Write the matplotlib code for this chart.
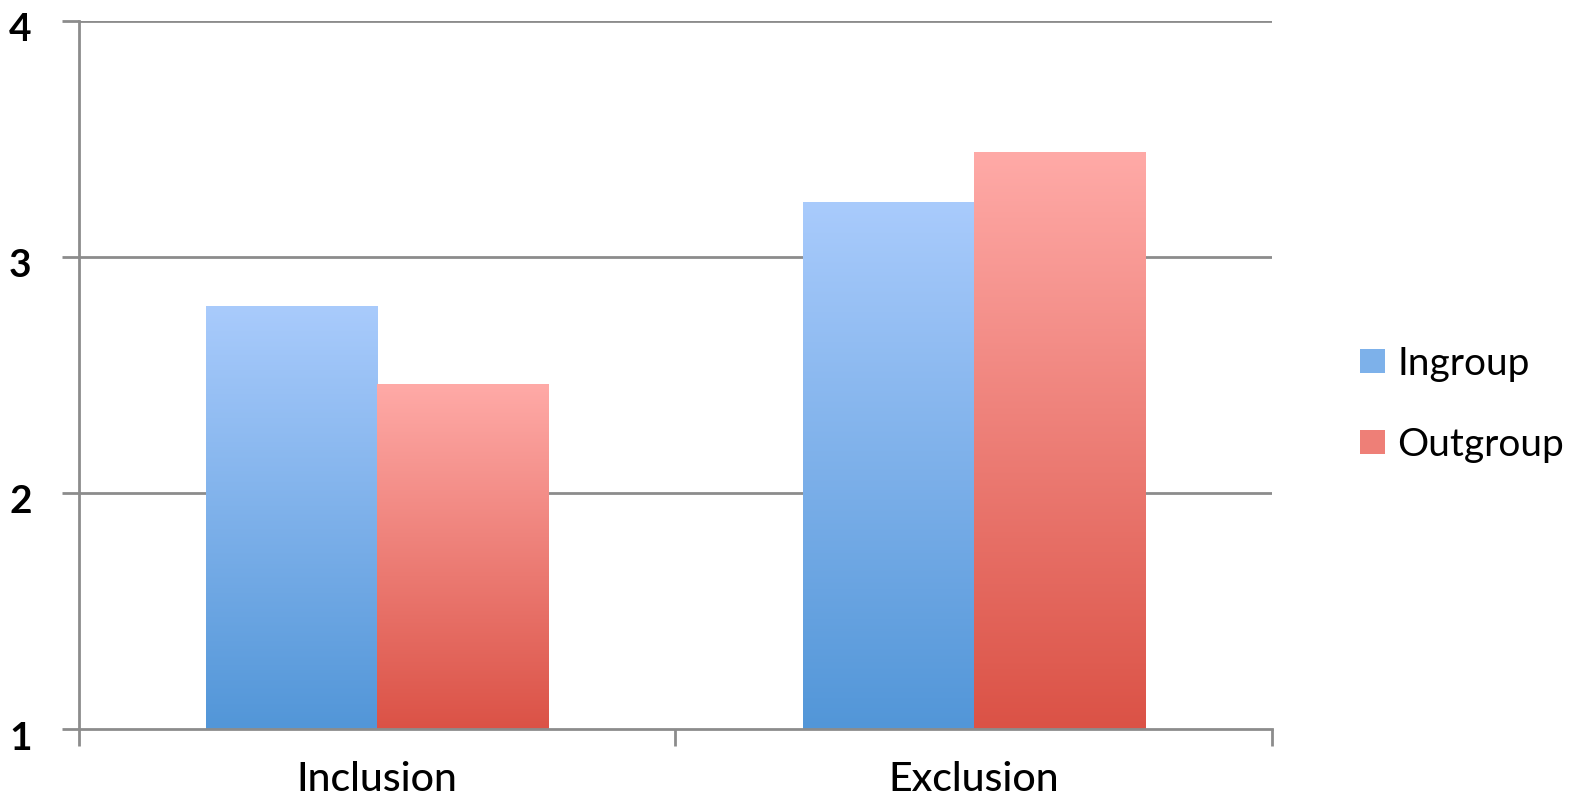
import matplotlib
matplotlib.use('Agg')
import matplotlib.pyplot as plt
import matplotlib.transforms as mtransforms
import numpy as np
from matplotlib.colors import LinearSegmentedColormap
from matplotlib.patches import Patch

# data
categories = ["Inclusion", "Exclusion"]
series_names = ["Ingroup", "Outgroup"]
ingroup_vals = [2.79, 3.23]
outgroup_vals = [2.46, 3.44]
y_ticks = [1, 2, 3, 4]

# gradient colours: (top, bottom)
blue_grad = ("#a9cbfc", "#5296d8")
red_grad = ("#ffaaa7", "#db5246")

plt.rcParams['font.family'] = ['Lato', 'DejaVu Sans']

fig = plt.figure(figsize=(15.85, 7.99), dpi=100, facecolor='white')
ax = fig.add_axes([0.0498, 0.0876, 0.7527, 0.8864])

ymin, ymax = 1, 4
grid_col = '#8c8c8c'
for t in y_ticks[1:]:
    ax.axhline(t, color=grid_col, linewidth=2, zorder=1)

bar_w = 0.287
x = np.arange(len(categories)) + 0.5


def gradient_bar(ax, left, width, height, colors):
    cmap = LinearSegmentedColormap.from_list('g', [colors[1], colors[0]])
    grad = np.linspace(0, 1, 256).reshape(-1, 1)
    ax.imshow(grad, cmap=cmap, origin='lower', aspect='auto',
              extent=(left, left + width, ymin, height), zorder=2,
              interpolation='bicubic')


for i in range(len(categories)):
    gradient_bar(ax, x[i] - bar_w, bar_w, ingroup_vals[i], blue_grad)
    gradient_bar(ax, x[i], bar_w, outgroup_vals[i], red_grad)

ax.set_xlim(0, len(categories))
ax.set_ylim(ymin, ymax)

# axes styling
for s in ['top', 'right']:
    ax.spines[s].set_visible(False)
for s in ['left', 'bottom']:
    ax.spines[s].set_color(grid_col)
    ax.spines[s].set_linewidth(2)
    ax.spines[s].set_zorder(3)

ax.set_yticks(y_ticks)
ax.set_yticklabels([str(t) for t in y_ticks], fontsize=28, fontweight='bold')
ax.tick_params(axis='y', length=12, width=2, color=grid_col, pad=22)
# labels sit a little below their gridline in the reference
shift = mtransforms.ScaledTranslation(0, -6 / 100, fig.dpi_scale_trans)
for lbl in ax.get_yticklabels():
    lbl.set_transform(lbl.get_transform() + shift)

ax.set_xticks([0, 1, 2])
ax.set_xticklabels([])
ax.tick_params(axis='x', length=12, width=2, color=grid_col)
for i, c in enumerate(categories):
    ax.text(x[i], -0.071, c, transform=ax.get_xaxis_transform(),
            ha='center', va='center', fontsize=29.5, fontweight='medium')

handles = [Patch(facecolor="#7db1ea", edgecolor='none'),
           Patch(facecolor="#ee7f77", edgecolor='none')]
fig.legend(handles, series_names, loc='center left',
           bbox_to_anchor=(0.836, 0.494), frameon=False, fontsize=28,
           handlelength=0.65, handleheight=0.55, handletextpad=0.3,
           labelspacing=1.15)

fig.savefig('out.png', dpi=100, facecolor='white')
